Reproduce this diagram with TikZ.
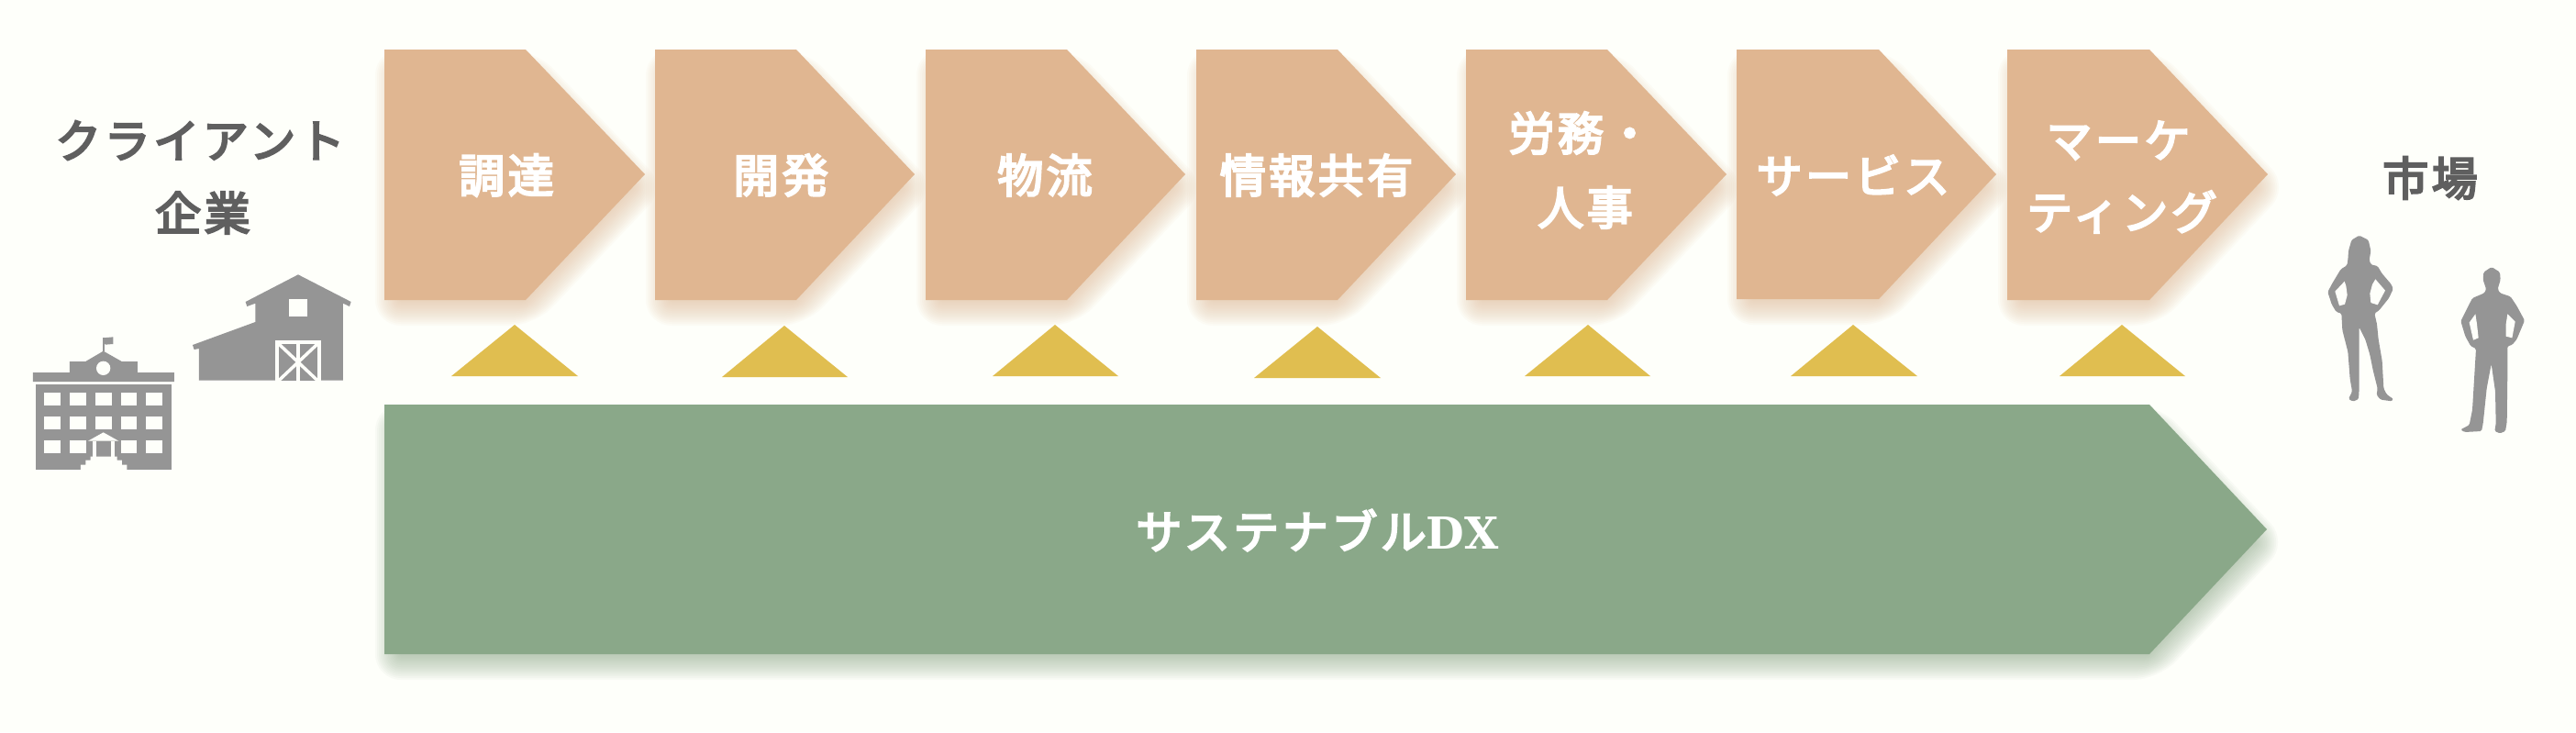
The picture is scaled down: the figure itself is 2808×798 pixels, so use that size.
\documentclass[tikz,border=0pt]{standalone}
\usepackage{fontspec}
\setmainfont{Noto Sans CJK JP}[LetterSpace=7,FakeBold=4.5]
\newfontfamily\dxfont{DejaVu Serif}[BoldFont={DejaVu Serif Bold}]
\definecolor{bgc}{HTML}{FEFFFA}
\definecolor{peach}{HTML}{E0B691}
\definecolor{sage}{HTML}{8AA889}
\definecolor{gold}{HTML}{E0BE50}
\definecolor{inkgrey}{HTML}{5F5F5F}
\definecolor{icongrey}{HTML}{959595}
\tikzset{
  whitelabel/.style={text=white,inner sep=0pt,font=\fontsize{50}{50}\selectfont},
  greylabel/.style={text=inkgrey,inner sep=0pt,font=\fontsize{50}{50}\selectfont},
  goldtri/.style={fill=gold},
  iconfill/.style={fill=icongrey},
  iconhole/.style={fill=bgc}
}
% x0 shoulder tip ytop ymid ybottom colour
\newcommand{\pent}[7]{%
  \foreach \r [evaluate=\r as \rc using {max(0,14+\r)}] in {14,12,...,-14}{%
    \fill[#7,fill opacity=0.05,rounded corners=\rc pt]
      ({#1+4-\r},{#4+14-\r}) -- ({#2+4+0.43*\r},{#4+14-\r}) --
      ({#3+4+1.38*\r},{#5+14}) -- ({#2+4+0.43*\r},{#6+14+\r}) --
      ({#1+4-\r},{#6+14+\r}) -- cycle;
  }%
  \fill[#7] (#1,#4) -- (#2,#4) -- (#3,#5) -- (#2,#6) -- (#1,#6) -- cycle;
}
\newcommand{\tri}[5]{\fill[goldtri] (#1,#2) -- (#4,#3) -- (#5,#3) -- cycle;}
\begin{document}
\begin{tikzpicture}[x=1pt,y=-1pt]
\useasboundingbox (0,0) rectangle (2808,798);
\fill[bgc] (0,0) rectangle (2808,798);

\pent{419}{573}{703}{54}{190}{327}{peach}
\pent{714}{868}{997}{54}{190}{327}{peach}
\pent{1009}{1163}{1292}{54}{190}{327}{peach}
\pent{1304}{1458}{1587}{54}{190}{327}{peach}
\pent{1598}{1752}{1882}{54}{190}{327}{peach}
\pent{1893}{2048}{2176}{54}{190}{326}{peach}
\pent{2188}{2343}{2472}{54}{190}{327}{peach}
\pent{419}{2343}{2471}{441}{577}{713}{sage}

\tri{561}{354}{410}{492}{630}
\tri{855}{355}{411}{787}{924}
\tri{1150}{354}{410}{1082}{1219}
\tri{1436}{356}{412}{1367}{1505}
\tri{1731}{354}{410}{1662}{1799}
\tri{2020}{354}{410}{1952}{2090}
\tri{2313}{354}{410}{2245}{2382}

\node[whitelabel] (n1) at (552,191) {調達};
\node[whitelabel] (n2) at (851,191) {開発};
\node[whitelabel] (n3) at (1139,191) {物流};
\node[whitelabel] (n4) at (1435,191) {情報共有};
\node[whitelabel] (n5a) at (1723,145) {労務・};
\node[whitelabel] (n5b) at (1728,226) {人事};
\node[whitelabel] (n6) at (2020,191) {サービス};
\node[whitelabel] (n7a) at (2309,153) {マーケ};
\node[whitelabel] (n7b) at (2313,231) {ティング};
\node[whitelabel] (dx) at (1436,578) {サステナブル{\dxfont\bfseries\fontsize{48}{48}\selectfont DX}};
\node[greylabel] (client) at (218,153) {クライアント};
\node[greylabel] (corp) at (221,232) {企業};
\node[greylabel] (market) at (2649,194) {市場};

% barn and school: coordinates of a 3x crop at (0,80)
\begin{scope}[shift={(0,80)},x=0.33333pt,y=-0.33333pt]
  \fill[iconfill] (803,747) -- (975,658) -- (1148,747) -- (1143,762) -- (1122,752) -- (1122,1004) -- (651,1004) -- (651,900) -- (635,903) -- (630,888) -- (835,813) -- (835,752) -- (808,762) -- cycle;
  \fill[iconhole] (945,738) rectangle (1005,795);
  \fill[iconhole] (900,873) rectangle (1050,1004);
  \fill[iconfill] (912,885) rectangle (1038,1004);
  \begin{scope}
    \clip (912,885) rectangle (1038,1004);
    \draw[bgc,line width=3.5pt] (912,885) -- (1038,1004);
    \draw[bgc,line width=3.5pt] (1038,885) -- (912,1004);
    \draw[bgc,line width=3.5pt] (975,885) -- (975,1004);
  \end{scope}
  % school
  \fill[iconfill] (108,978) -- (228,978) -- (228,942) -- (280,942) -- (338,908) -- (398,942) -- (450,942) -- (450,978) -- (570,978) -- (570,1008) -- (108,1008) -- cycle;
  \fill[iconfill] (336,910) rectangle (341,865);
  \fill[iconfill] (338,865) -- (370,862) -- (370,885) -- (345,887) -- (338,880) -- cycle;
  \fill[iconhole] (338,964) circle[radius=23];
  \fill[iconfill] (117,1017) rectangle (561,1296);
  \foreach \ya/\yb in {1044/1086,1122/1164,1200/1242}{
    \foreach \xa/\xb in {143/198,228/282,395/448,477/531}{
      \fill[iconhole] (\xa,\ya) rectangle (\xb,\yb);
    }
  }
  \fill[iconhole] (311,1044) rectangle (366,1086);
  \fill[iconhole] (311,1122) rectangle (366,1164);
  % portico and steps
  \fill[iconhole] (288,1202) -- (338,1174) -- (388,1202) -- cycle;
  \fill[iconhole] (303,1202) rectangle (375,1256);
  \fill[iconfill] (316,1203) rectangle (364,1254);
  \fill[iconhole] (264,1296) -- (264,1280) -- (280,1280) -- (280,1265) -- (296,1265) -- (296,1253) -- (383,1253) -- (383,1265) -- (399,1265) -- (399,1280) -- (415,1280) -- (415,1296) -- cycle;
\end{scope}

% people: coordinates of a 3x crop at (2400,140)
\begin{scope}[shift={(2400,140)},x=0.33333pt,y=-0.33333pt]
  \fill[iconfill,rounded corners=1.5pt] (515,350) -- (545,365) -- (553,400) -- (548,430) -- (553,445) -- (575,450) -- (590,475) -- (620,510) -- (626,525) -- (612,555) -- (580,595) -- (565,605) -- (573,640) -- (578,690) -- (590,760) -- (595,850) -- (605,870) -- (627,885) -- (622,892) -- (585,887) -- (572,872) -- (575,850) -- (560,790) -- (550,740) -- (535,690) -- (515,650) -- (515,850) -- (513,885) -- (495,893) -- (480,885) -- (492,860) -- (485,820) -- (478,730) -- (460,660) -- (457,605) -- (440,600) -- (425,575) -- (412,535) -- (425,510) -- (455,460) -- (475,448) -- (478,430) -- (480,400) -- (490,365) -- cycle;
  \fill[iconhole] (467,500) -- (436,533) -- (450,580) -- (468,575) -- (476,545) -- (472,515) -- cycle;
  \fill[iconhole] (568,493) -- (600,530) -- (575,577) -- (553,570) -- (550,540) -- (558,510) -- cycle;
  \fill[iconfill,rounded corners=1.5pt] (948,453) -- (975,470) -- (977,495) -- (968,525) -- (975,538) -- (1010,550) -- (1030,580) -- (1056,628) -- (1030,690) -- (1015,708) -- (1000,712) -- (1000,800) -- (998,960) -- (993,990) -- (975,997) -- (958,990) -- (962,965) -- (960,860) -- (947,770) -- (932,850) -- (920,965) -- (915,990) -- (860,993) -- (846,985) -- (875,970) -- (885,920) -- (897,720) -- (880,712) -- (862,680) -- (847,630) -- (885,555) -- (925,538) -- (930,525) -- (920,495) -- (922,470) -- cycle;
  \fill[iconhole] (895,607) -- (875,635) -- (888,692) -- (905,685) -- (900,640) -- cycle;
  \fill[iconhole] (1000,607) -- (1025,632) -- (1015,685) -- (995,680) -- (995,640) -- cycle;
\end{scope}
\end{tikzpicture}
\end{document}
